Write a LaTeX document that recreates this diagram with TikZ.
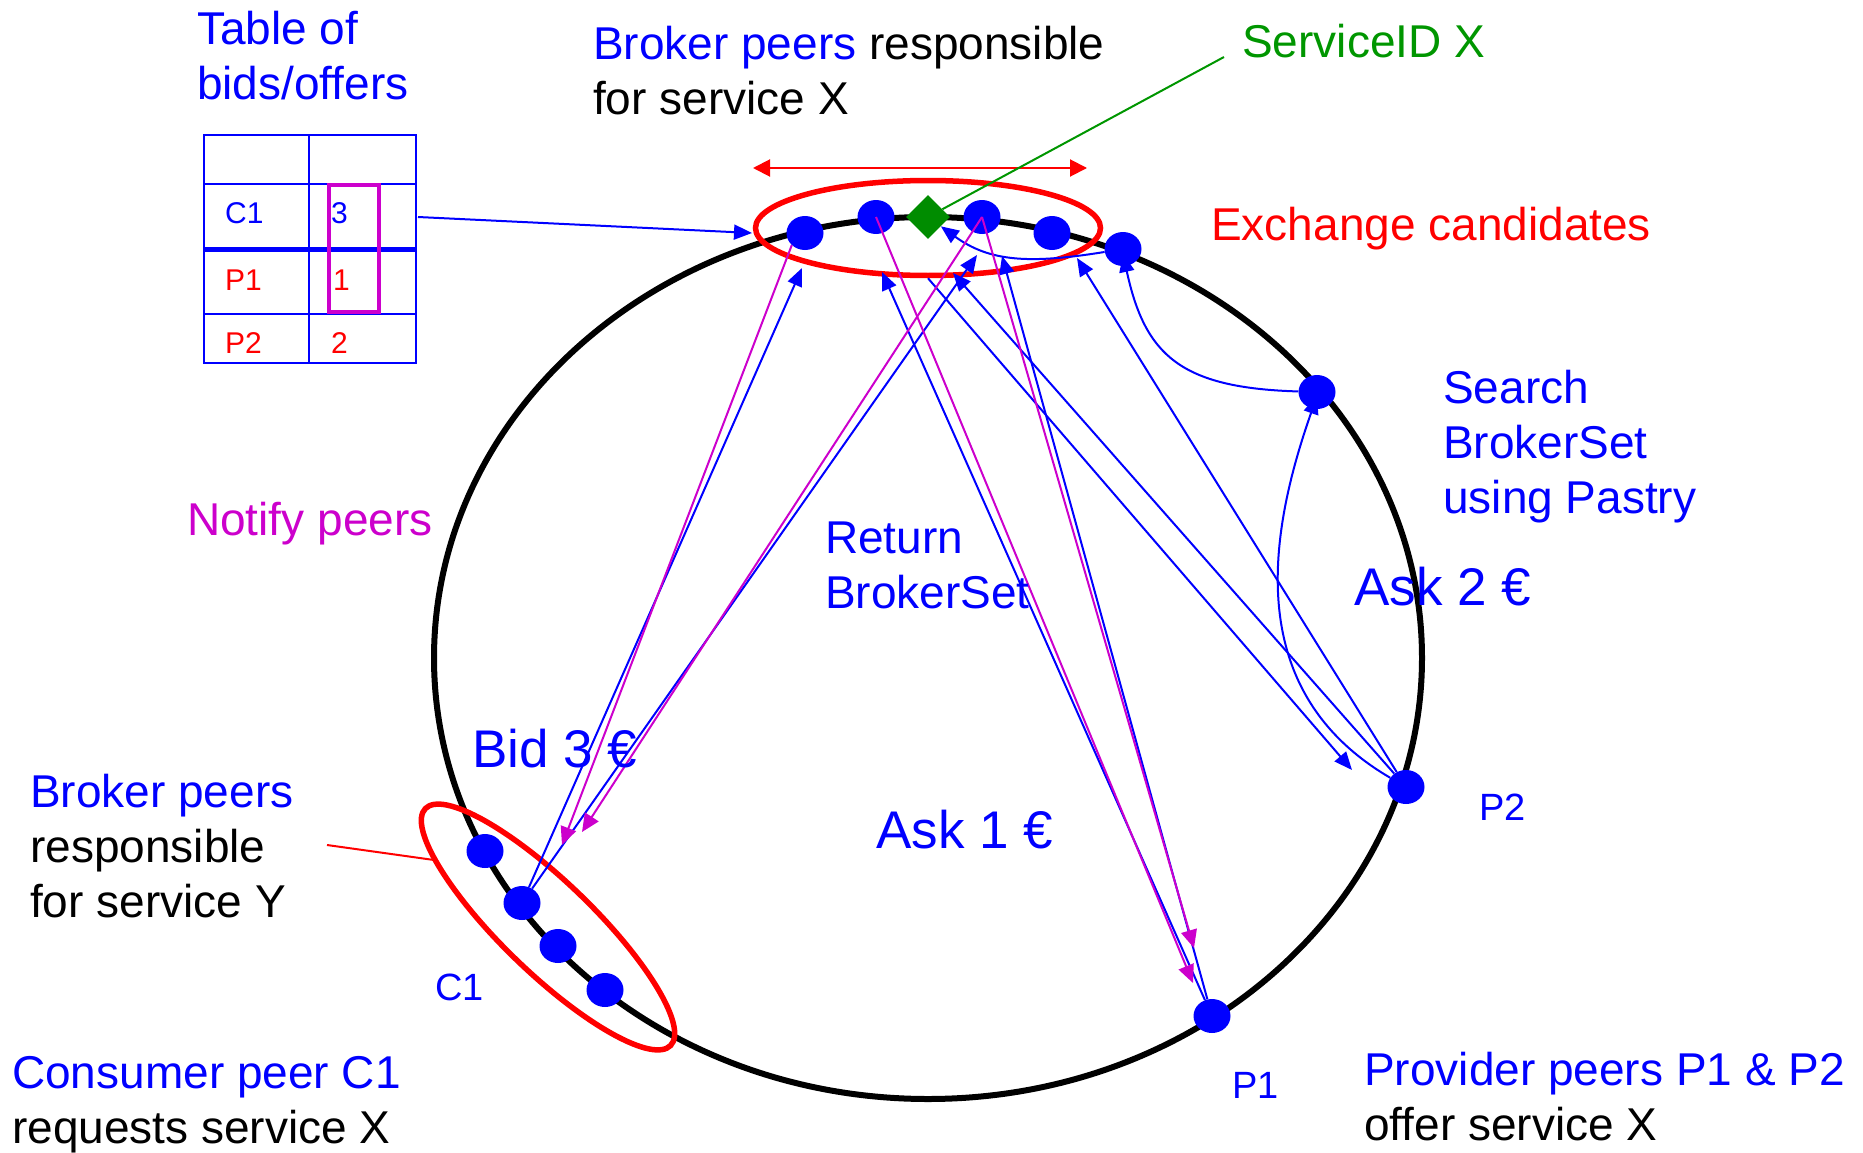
\documentclass[tikz,border=0pt]{standalone}
\usepackage{fontspec}
\setmainfont{Liberation Sans}
\usetikzlibrary{arrows.meta,shapes.geometric}
\definecolor{pblue}{RGB}{0,0,255}
\definecolor{pred}{RGB}{255,0,0}
\definecolor{pmag}{RGB}{204,0,204}
\definecolor{pgreen}{RGB}{0,150,0}
\definecolor{dgreen}{RGB}{0,140,0}
% left-aligned stack of lines whose baseline is the first line
\newcommand{\linesof}[1]{\vtop{\halign{##\hfil\cr#1\crcr}}}
\pgfdeclarelayer{ringl}
\pgfdeclarelayer{redl}
\pgfdeclarelayer{bluel}
\pgfsetlayers{ringl,redl,bluel,main}
\begin{document}
\begin{tikzpicture}[x=1pt,y=-1pt,
  txt/.style={inner sep=0pt, anchor=base west, font=\fontsize{46}{55}\selectfont},
  bigtxt/.style={inner sep=0pt, anchor=base west, font=\fontsize{53}{60}\selectfont},
  smalltxt/.style={inner sep=0pt, anchor=base west, font=\fontsize{38}{44}\selectfont},
  celltxt/.style={inner sep=0pt, anchor=base west, font=\fontsize{30}{36}\selectfont},
  peer/.style={ellipse, fill=pblue, draw=none, minimum width=37pt, minimum height=34pt, inner sep=0pt},
  brokerset/.style={ellipse, draw=pred, line width=5.5pt, inner sep=0pt},
  msg/.style={draw=pblue, line width=2pt, -{Triangle[length=18pt,width=15pt]}},
  note/.style={draw=pmag, line width=2pt, -{Triangle[length=18pt,width=16pt]}},
  grid/.style={draw=pblue, line width=2pt},
]
\useasboundingbox (0,0) rectangle (1863,1153);

% ---------- the ring ----------
\begin{pgfonlayer}{ringl}
  \draw[line width=6pt] (928,658) ellipse [x radius=494pt, y radius=441pt];
\end{pgfonlayer}

% ---------- peers on the ring ----------
\node[peer] (n1) at (805,233) {};
\node[peer] (n2) at (876,217) {};
\node[diamond, fill=dgreen, draw=none, minimum width=44pt, minimum height=44pt, inner sep=0pt] (dia) at (928,217) {};
\node[peer] (n3) at (982,217) {};
\node[peer] (n4) at (1052,233) {};
\node[peer] (n5) at (1123,249) {};
\node[peer] (s)  at (1317,392) {};
\node[peer] (p2) at (1406,787) {};
\node[peer] (p1) at (1212,1016) {};
\node[peer] (y1) at (485,851) {};
\node[peer] (c1) at (522,903) {};
\node[peer] (y3) at (558,946) {};
\node[peer] (y4) at (605,990) {};

% ---------- broker sets ----------
\begin{pgfonlayer}{redl}
  \node[brokerset, minimum width=345pt, minimum height=95pt] (xset) at (928,228) {};
  \node[brokerset, minimum width=341pt, minimum height=91pt, rotate=-44] (yset) at (548,927) {};
\end{pgfonlayer}

% ---------- free ends of connectors ----------
\coordinate (tblout) at (418,217);
\coordinate (xin) at (752,233);
\coordinate (tA) at (802,268);
\coordinate (tB) at (977,255);
\coordinate (tC) at (882,272);
\coordinate (tD) at (1002,256);
\coordinate (tE) at (953,273);
\coordinate (tF) at (1077,258);
\coordinate (rtip) at (1352,770);
\coordinate (mA) at (1193,983);
\coordinate (mB) at (1194,948);
\coordinate (mC) at (562,845);
\coordinate (mD) at (582,832);
\coordinate (spanL) at (753,168);
\coordinate (spanR) at (1087,168);
\coordinate (sidend) at (1224,57);
\coordinate (ylead) at (327,845);
\coordinate (yedge) at (434,860);

% ---------- blue messages ----------
\begin{pgfonlayer}{bluel}
  \draw[msg] (tblout) -- (xin);
  \draw[msg] (c1) -- (tA);
  \draw[msg] (c1) -- (tB);
  \draw[msg] (p1) -- (tC);
  \draw[msg] (p1) -- (tD);
  \draw[msg] (p2) -- (tE);
  \draw[msg] (p2) -- (tF);
  \draw[msg] (xset.south) -- (rtip);
  \draw[msg] (p2) .. controls (1240,690) and (1270,530) .. ([yshift=-4pt]s.center);
  \draw[msg] (s) .. controls (1180,388) and (1145,355) .. ([yshift=-5pt]n5.center);
  \draw[msg] (n5) .. controls (1030,264) and (990,262) .. (dia);
\end{pgfonlayer}

% ---------- notifications ----------
\draw[note] (n2.center) -- (mA);
\draw[note] (n3.center) -- (mB);
\draw[note] (n1.south west) -- (mC);
\draw[note] (n3.center) -- (mD);

% ---------- other markers ----------
\draw[pred, line width=2pt, {Triangle[length=17pt,width=17pt]}-{Triangle[length=17pt,width=17pt]}] (spanL) -- (spanR);
\draw[pgreen, line width=2pt] (dia) -- (sidend);
\draw[pred, line width=2pt] (ylead) -- (yedge);

% ---------- table of bids/offers ----------
\node[grid, minimum width=212pt, minimum height=228pt, inner sep=0pt] (tbl) at (310,249) {};
\draw[grid] (309,135) -- (309,363);
\draw[grid] (204,184) -- (416,184);
\draw[grid] (204,314) -- (416,314);
\draw[pblue, line width=5pt] (204,249.5) -- (416,249.5);
\node[celltxt, text=pblue] (cC1) at (225,223) {C1};
\node[celltxt, text=pblue] (vC1) at (331,223) {3};
\node[celltxt, text=pred] (cP1) at (225,290) {P1};
\node[celltxt, text=pred] (vP1) at (333,290) {1};
\node[celltxt, text=pred] (cP2) at (225,353) {P2};
\node[celltxt, text=pred] (vP2) at (331,353) {2};
\draw[pmag, line width=4pt] (329,185) rectangle (379,312);

% ---------- labels ----------
\node[txt, text=pblue] (ltable) at (197,45) {\linesof{Table of\cr bids/offers}};
\node[txt] (lxset) at (593,60) {\linesof{\textcolor{pblue}{Broker peers} responsible\cr for service X}};
\node[txt, text=pgreen] (lsid) at (1242,58) {ServiceID X};
\node[txt, text=pred] (lexch) at (1211,240) {Exchange candidates};
\node[txt, text=pblue] (lsearch) at (1443,403) {\linesof{Search\cr BrokerSet\cr using Pastry}};
\node[bigtxt, text=pblue] (lask2) at (1354,605) {Ask 2 €};
\node[txt, text=pblue] (lret) at (825,553) {\linesof{Return\cr BrokerSet}};
\node[txt, text=pmag] (lnotify) at (187,535) {Notify peers};
\node[bigtxt, text=pblue] (lbid) at (472,767) {Bid 3 €};
\node[bigtxt, text=pblue] (lask1) at (876,848) {Ask 1 €};
\node[txt] (lyset) at (30,807) {\linesof{\textcolor{pblue}{Broker peers}\cr responsible\cr for service Y}};
\node[smalltxt, text=pblue] (lc1) at (435,1000) {C1};
\node[smalltxt, text=pblue] (lp2) at (1479,820) {P2};
\node[smalltxt, text=pblue] (lp1) at (1232,1098) {P1};
\node[txt] (lcons) at (12,1088) {\linesof{\textcolor{pblue}{Consumer peer C1}\cr requests service X}};
\node[txt] (lprov) at (1364,1085) {\linesof{\textcolor{pblue}{Provider peers P1 \& P2}\cr offer service X}};
\end{tikzpicture}
\end{document}
